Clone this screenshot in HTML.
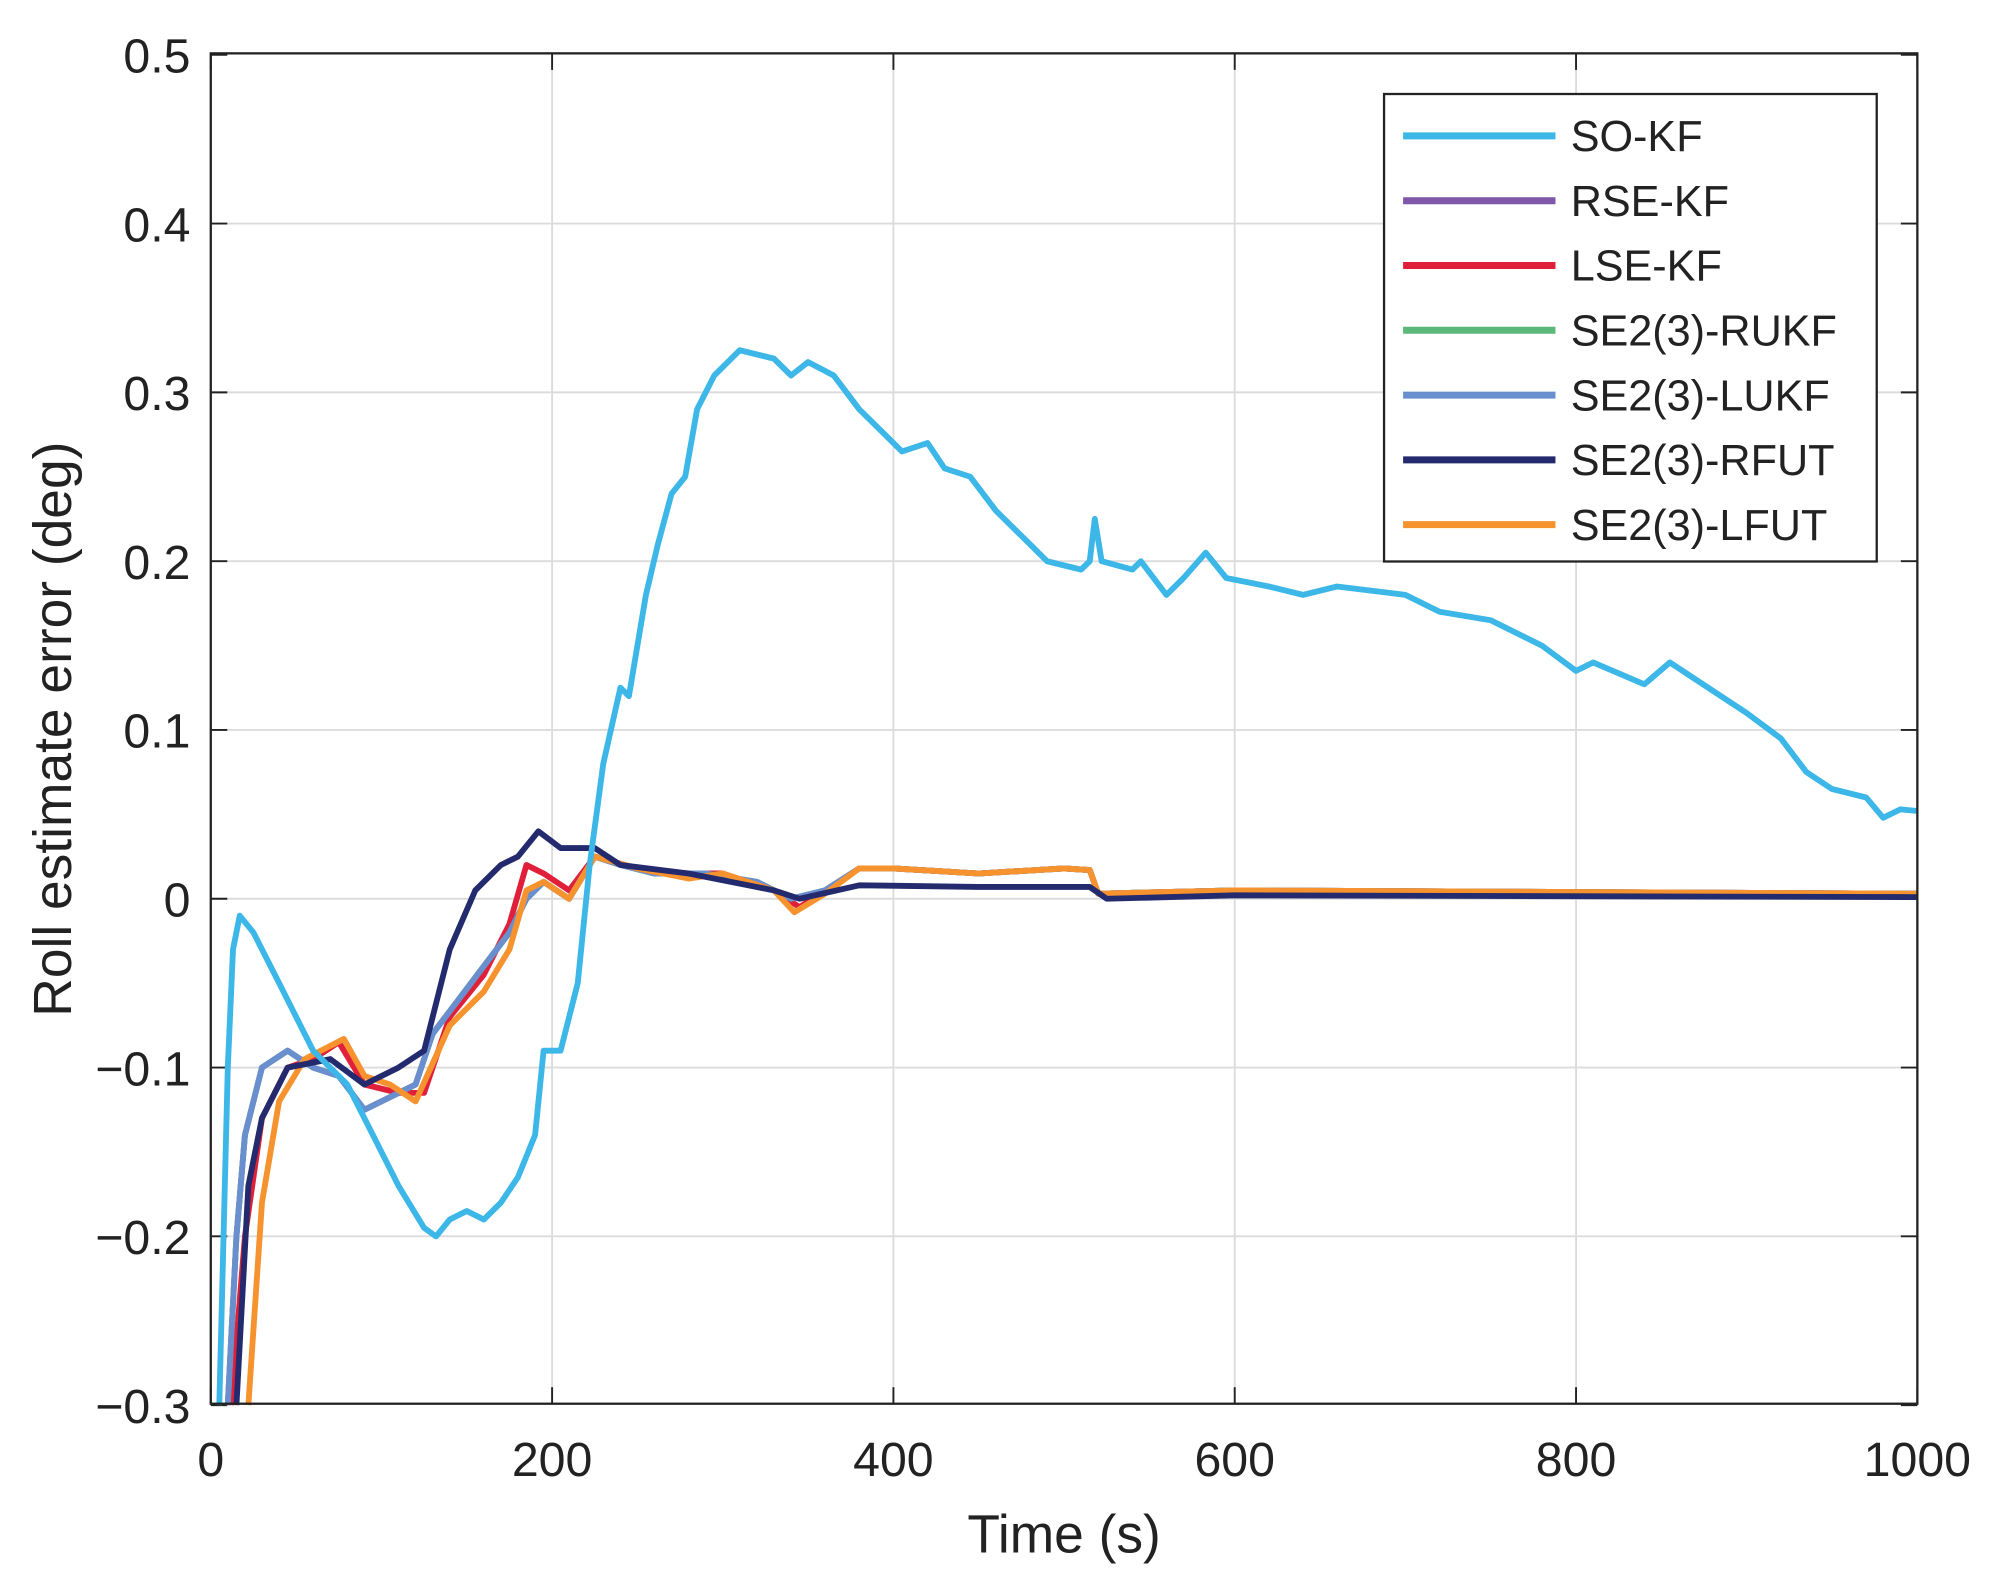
<!DOCTYPE html>
<html><head><meta charset="utf-8"><style>body{margin:0;background:#fff}svg{display:block}</style></head>
<body>
<svg id="s" width="1991" height="1593" viewBox="0 0 1568 1254" preserveAspectRatio="none" xmlns="http://www.w3.org/2000/svg" font-family="Liberation Sans, sans-serif">
<rect width="1568" height="1254" fill="#fff"/>
<g id="grid" stroke="#dcdcdc" stroke-width="1.5"></g>
<g id="ticks" stroke="#222" stroke-width="1.5"></g>
<g id="lines" fill="none" stroke-width="4.6" stroke-linejoin="round"></g>
<rect x="166" y="42" width="1344" height="1063" fill="none" stroke="#222" stroke-width="1.8"/>
<g id="labels" font-size="38" fill="#222"></g>
<text x="838" y="1222" font-size="42" text-anchor="middle" fill="#222">Time (s)</text>
<text transform="translate(56,574) rotate(-90)" font-size="42" text-anchor="middle" fill="#222">Roll estimate error (deg)</text>
<rect x="1090" y="74" width="388" height="368" fill="#fff" stroke="#222" stroke-width="1.8"/>
<g id="leg" font-size="34" fill="#222"></g>
</svg>
<script>
const X=t=>166+t*1.344, Y=v=>707.5-v*1328.75;
const ns="http://www.w3.org/2000/svg";
function el(p,tag,a,txt){const e=document.createElementNS(ns,tag);for(const k in a)e.setAttribute(k,a[k]);if(txt!==undefined)e.textContent=txt;document.getElementById(p).appendChild(e);}
for(let t=200;t<1000;t+=200)el('grid','line',{x1:X(t),x2:X(t),y1:42,y2:1105});
for(let v=-0.2;v<0.45;v+=0.1)el('grid','line',{x1:166,x2:1510,y1:Y(v),y2:Y(v)});
for(let t=0;t<=1000;t+=200){el('ticks','line',{x1:X(t),x2:X(t),y1:1105,y2:1092});el('ticks','line',{x1:X(t),x2:X(t),y1:42,y2:55});el('labels','text',{x:X(t),y:1162,'text-anchor':'middle'},String(t));}
const yl=['\u22120.3','\u22120.2','\u22120.1','0','0.1','0.2','0.3','0.4','0.5'];
for(let i=0;i<9;i++){const v=-0.3+i*0.1;el('ticks','line',{x1:166,x2:179,y1:Y(v),y2:Y(v)});el('ticks','line',{x1:1497,x2:1510,y1:Y(v),y2:Y(v)});el('labels','text',{x:150,y:Y(v)+14,'text-anchor':'end'},yl[i]);}
const tail=[[380,0.018],[400,0.018],[450,0.015],[500,0.018],[515,0.017],[520,0.003],[560,0.004],[600,0.005],[1000,0.003]];
const D={
so:[[5,-0.3],[10,-0.1],[13,-0.03],[17,-0.01],[25,-0.02],[40,-0.05],[60,-0.09],[80,-0.11],[95,-0.14],[110,-0.17],[125,-0.195],[132,-0.2],[140,-0.19],[150,-0.185],[160,-0.19],[170,-0.18],[180,-0.165],[190,-0.14],[195,-0.09],[205,-0.09],[215,-0.05],[222,0.02],[230,0.08],[240,0.125],[245,0.12],[255,0.18],[262,0.21],[270,0.24],[278,0.25],[285,0.29],[295,0.31],[310,0.325],[330,0.32],[340,0.31],[350,0.318],[365,0.31],[380,0.29],[395,0.275],[405,0.265],[420,0.27],[430,0.255],[445,0.25],[460,0.23],[475,0.215],[490,0.2],[510,0.195],[515,0.2],[518,0.225],[522,0.2],[540,0.195],[545,0.2],[560,0.18],[570,0.19],[583,0.205],[595,0.19],[620,0.185],[640,0.18],[660,0.185],[700,0.18],[720,0.17],[750,0.165],[780,0.15],[800,0.135],[810,0.14],[840,0.127],[855,0.14],[870,0.13],[900,0.11],[920,0.095],[935,0.075],[950,0.065],[970,0.06],[980,0.048],[990,0.053],[1000,0.052]],
rse:[[10,-0.3],[15,-0.2],[20,-0.14],[30,-0.1],[45,-0.09],[60,-0.1],[75,-0.105],[90,-0.125],[100,-0.12],[120,-0.11],[130,-0.08],[145,-0.06],[160,-0.04],[175,-0.02],[185,0.0],[195,0.01],[210,0.0],[225,0.025],[240,0.02],[260,0.015],[290,0.015],[320,0.01],[340,0.0],[360,0.005]].concat(tail),
lse:[[12,-0.3],[20,-0.2],[30,-0.13],[45,-0.1],[60,-0.095],[75,-0.085],[90,-0.11],[110,-0.115],[125,-0.115],[140,-0.07],[160,-0.045],[175,-0.015],[185,0.02],[195,0.015],[210,0.005],[225,0.025],[250,0.018],[280,0.015],[300,0.015],[330,0.005],[345,-0.005],[360,0.005]].concat(tail),
lfut:[[22,-0.3],[30,-0.18],[40,-0.12],[55,-0.095],[78,-0.083],[90,-0.105],[105,-0.11],[120,-0.12],[140,-0.075],[160,-0.055],[175,-0.03],[185,0.005],[195,0.01],[210,0.0],[225,0.025],[250,0.018],[280,0.012],[300,0.015],[330,0.005],[342,-0.008],[360,0.003]].concat(tail),
rfut:[[15,-0.3],[22,-0.17],[30,-0.13],[45,-0.1],[70,-0.095],[90,-0.11],[110,-0.1],[125,-0.09],[140,-0.03],[155,0.005],[170,0.02],[180,0.025],[192,0.04],[205,0.03],[225,0.03],[240,0.02],[280,0.015],[330,0.005],[345,0.0],[380,0.008],[450,0.007],[515,0.007],[525,0.0],[600,0.002],[1000,0.001]]};
const pts=a=>a.map(p=>X(p[0]).toFixed(1)+','+Y(Math.max(p[1],-0.3)).toFixed(1)).join(' ');
[['rse','#7e57a8'],['lse','#e0203a'],['rse','#5cb87a'],['rse','#6a8fcf'],['lfut','#f7932e'],['rfut','#232b6e'],['so','#3cb7e8']].forEach(([k,c])=>el('lines','polyline',{points:pts(D[k]),stroke:c}));
const L=[['SO-KF','#3cb7e8'],['RSE-KF','#7e57a8'],['LSE-KF','#e0203a'],['SE2(3)-RUKF','#5cb87a'],['SE2(3)-LUKF','#6a8fcf'],['SE2(3)-RFUT','#232b6e'],['SE2(3)-LFUT','#f7932e']];
L.forEach(([n,c],i)=>{const y=107+i*51;el('leg','line',{x1:1105,x2:1225,y1:y,y2:y,stroke:c,'stroke-width':5.5});el('leg','text',{x:1237,y:y+12},n);});
</script>
</body></html>
